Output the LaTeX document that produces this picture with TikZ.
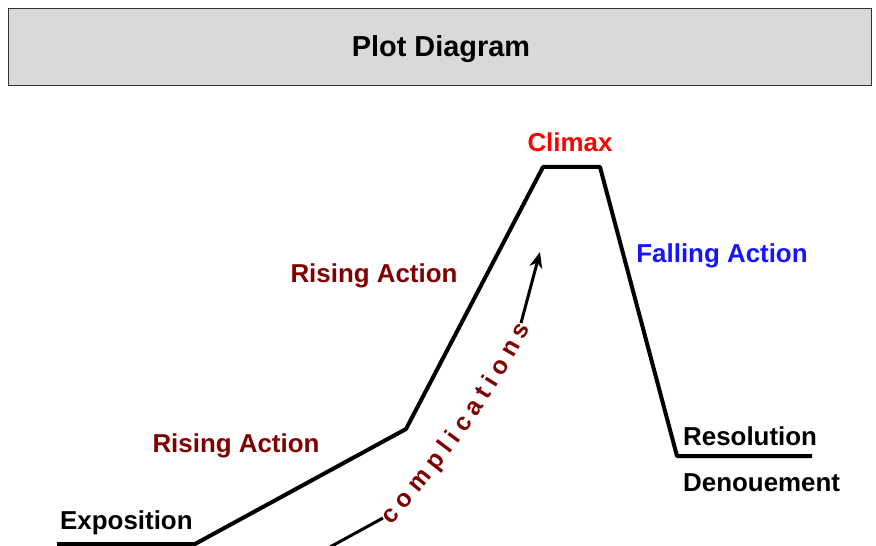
\documentclass[tikz,border=0pt]{standalone}
\usepackage{fontspec}
\setmainfont{Liberation Sans}
\usetikzlibrary{decorations.text,arrows.meta}
\definecolor{rising}{HTML}{800000}
\definecolor{falling}{HTML}{1414FF}
\definecolor{titlegray}{HTML}{D9D9D9}
\begin{document}
\begin{tikzpicture}[>={Stealth[length=16bp,width=13bp]},line join=round,x=1bp,y=-1bp,font=\fontsize{26}{30}\selectfont\bfseries]
			\useasboundingbox (0,0) rectangle (876,546);
			\clip (0,0) rectangle (876,546);
			\node[draw=black!80,line width=1.5bp,fill=titlegray,minimum width=863bp,minimum height=77bp] (title) at (440,47) {};
			\node[anchor=base,font=\fontsize{29}{34}\selectfont\bfseries] (titletext) at (441,57) {Plot Diagram};
			\foreach \n/\p in {a/{57,544},b/{195,544},c/{406,429},d/{543,167},e/{600,167},f/{677,456},g/{812,456}}
				\coordinate (\n) at (\p);
			\draw[line width=4bp] (a)--(b)--(c)--(d)--(e)--(f)--(g);
			\node[anchor=base,red] (climax) at (570,152) {Climax};
			\node[anchor=base,rising] (rise2) at (374,283) {Rising Action};
			\node[anchor=base,rising] (rise1) at (236,452) {Rising Action};
			\node[anchor=base,falling] (fall) at (722,263) {Falling Action};
			\node[anchor=base west,inner xsep=0pt] (res) at (683,445) {Resolution};
			\node[anchor=base west,inner xsep=0pt] (den) at (683,491) {Denouement};
			\node[anchor=base west,inner xsep=0pt] (expo) at (60,529) {Exposition};
			\foreach \n/\p in {p0/{330,547},p1/{383,518},p2/{521,323},p3/{540,252}}
				\coordinate (\n) at (\p);
			\draw[line width=3bp] (p0)--(p1);
			\begin{scope}[x=1cm,y=1cm]
				\path[decorate,decoration={text along path,raise=-11bp,text align={fit to path},
					text={|\color{rising}\fontsize{25}{28}\selectfont\bfseries|complications}}] (p1) to[bend right=6] (p2);
			\end{scope}
			\draw[line width=3bp,->] (p2)--(p3);
		\end{tikzpicture}
\end{document}
